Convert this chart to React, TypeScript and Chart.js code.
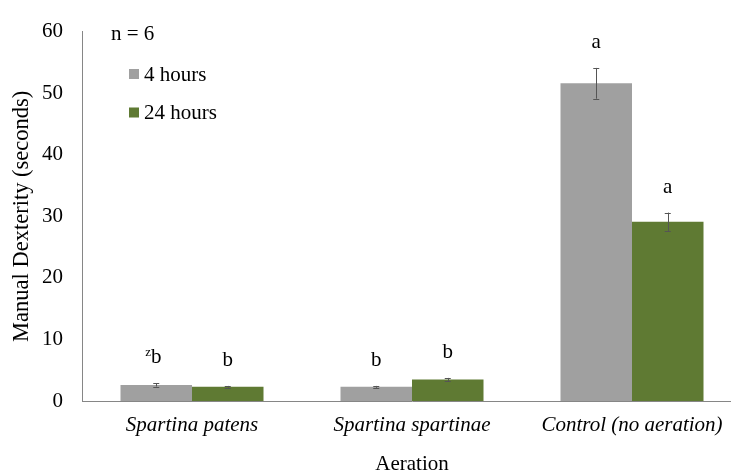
import React, { useEffect, useRef } from "react";
import { Chart, registerables } from "chart.js";

Chart.register(...registerables);

const categories = ["Spartina patens", "Spartina spartinae", "Control (no aeration)"];
const seriesLabels = ["4 hours", "24 hours"];
const values4h = [2.6, 2.3, 51.6];
const values24h = [2.3, 3.5, 29.1];
const err4h = [0.25, 0.15, 2.5];
const err24h = [0.15, 0.25, 1.5];
const letters4h = ["b", "b", "a"];
const letters24h = ["b", "b", "a"];
const superscripts4h = ["z", "", ""];
const superscripts24h = ["", "", ""];
const sampleNote = "n = 6";
const yMin = 0;
const yMax = 60;
const yStep = 10;

const FONT = "'Liberation Serif', 'Times New Roman', serif";
const FS = 21;
const GRAY = "#A0A0A0";
const GREEN = "#5F7A33";
const AXIS = "#868686";
const ERR = "#555555";

const errors = [err4h, err24h];
const letters = [letters4h, letters24h];
const supers = [superscripts4h, superscripts24h];

const annotatePlugin = {
  id: "annotate",
  afterDatasetsDraw(chart: any) {
    const ctx = chart.ctx;
    const y = chart.scales.y;
    ctx.save();
    chart.data.datasets.forEach((ds: any, di: number) => {
      const meta = chart.getDatasetMeta(di);
      meta.data.forEach((el: any, i: number) => {
        const v = ds.data[i];
        const e = errors[di][i];
        const top = y.getPixelForValue(v + e);
        const bot = y.getPixelForValue(v - e);
        const x = el.x;
        ctx.strokeStyle = ERR;
        ctx.lineWidth = 1;
        ctx.beginPath();
        ctx.moveTo(Math.round(x) + 0.5, top);
        ctx.lineTo(Math.round(x) + 0.5, bot);
        ctx.moveTo(x - 3, Math.round(top) + 0.5);
        ctx.lineTo(x + 3, Math.round(top) + 0.5);
        ctx.moveTo(x - 3, Math.round(bot) + 0.5);
        ctx.lineTo(x + 3, Math.round(bot) + 0.5);
        ctx.stroke();
        const base = top - 20;
        ctx.fillStyle = "#000";
        ctx.textBaseline = "alphabetic";
        ctx.textAlign = "center";
        ctx.font = `${FS}px ${FONT}`;
        const L = letters[di][i];
        ctx.fillText(L, x, base);
        const s = supers[di][i];
        if (s) {
          const w = ctx.measureText(L).width;
          ctx.font = `13px ${FONT}`;
          ctx.textAlign = "right";
          ctx.fillText(s, x - w / 2, base - 7);
        }
      });
    });
    ctx.restore();
  },
  afterDraw(chart: any) {
    const ctx = chart.ctx;
    ctx.save();
    ctx.fillStyle = "#000";
    ctx.font = `${FS}px ${FONT}`;
    ctx.textAlign = "left";
    ctx.textBaseline = "middle";
    ctx.fillText(sampleNote, 111, 34);
    chart.data.datasets.forEach((ds: any, di: number) => {
      const cy = 74 + di * 38.5;
      ctx.fillStyle = ds.backgroundColor;
      ctx.fillRect(129, cy - 5, 10, 10);
      ctx.fillStyle = "#000";
      ctx.fillText(ds.label, 144, cy + 1);
    });
    ctx.restore();
  },
};

export default function App() {
  const ref = useRef<HTMLCanvasElement>(null);
  useEffect(() => {
    document.body.style.margin = "0";
    const chart = new Chart(ref.current!, {
      type: "bar",
      data: {
        labels: categories,
        datasets: [
          { label: seriesLabels[0], data: values4h, backgroundColor: GRAY },
          { label: seriesLabels[1], data: values24h, backgroundColor: GREEN },
        ],
      },
      options: {
        animation: false,
        responsive: false,
        events: [],
        layout: { padding: { top: 18, right: 0, left: 0, bottom: 0 } },
        datasets: { bar: { categoryPercentage: 0.65, barPercentage: 1 } } as any,
        plugins: { legend: { display: false }, tooltip: { enabled: false } },
        scales: {
          x: {
            grid: { display: false, drawTicks: false },
            border: { display: true, color: AXIS, width: 1 },
            ticks: {
              color: "#000",
              padding: 12,
              font: { family: FONT, size: FS, style: "italic" },
            },
            title: {
              display: true,
              text: "Aeration",
              color: "#000",
              font: { family: FONT, size: FS },
              padding: { top: 0, bottom: 0 },
            },
            afterFit(scale: any) {
              scale.height = 76;
            },
          },
          y: {
            min: yMin,
            max: yMax,
            grid: { display: false, drawTicks: false },
            border: { display: true, color: AXIS, width: 1 },
            ticks: {
              stepSize: yStep,
              color: "#000",
              padding: 19,
              font: { family: FONT, size: FS },
            },
            title: {
              display: true,
              text: "Manual Dexterity (seconds)",
              color: "#000",
              font: { family: FONT, size: 22.5 },
              padding: { top: 9, bottom: 0 },
            },
            afterFit(scale: any) {
              scale.width = 82;
            },
          },
        },
      },
      plugins: [annotatePlugin],
    });
    return () => chart.destroy();
  }, []);
  return (
    <div style={{ width: 731, height: 473, overflow: "hidden" }}>
      <canvas ref={ref} width={742} height={477} style={{ display: "block" }} />
    </div>
  );
}
